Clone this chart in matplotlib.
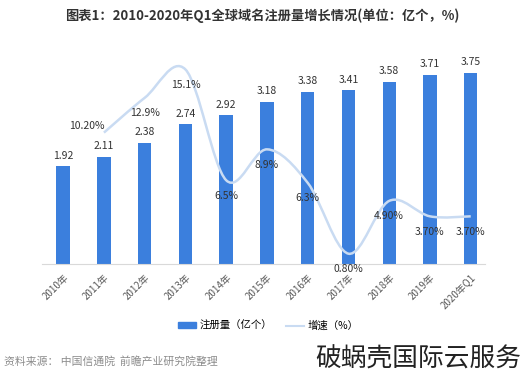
import matplotlib
matplotlib.use("Agg")
import matplotlib.pyplot as plt
from matplotlib.path import Path
from matplotlib.patches import PathPatch, Patch
from matplotlib.lines import Line2D
import numpy as np

plt.rcParams['font.family'] = ['Noto Sans CJK SC', 'DejaVu Sans']

years = ['2010年', '2011年', '2012年', '2013年', '2014年', '2015年',
         '2016年', '2017年', '2018年', '2019年', '2020年Q1']
volume = [1.92, 2.11, 2.38, 2.74, 2.92, 3.18, 3.38, 3.41, 3.58, 3.71, 3.75]
growth = [None, 10.2, 12.9, 15.1, 6.5, 8.9, 6.3, 0.8, 4.9, 3.7, 3.7]
growth_labels = [None, '10.20%', '12.9%', '15.1%', '6.5%', '8.9%', '6.3%',
                 '0.80%', '4.90%', '3.70%', '3.70%']

bar_color = '#3b7fdd'
line_color = '#c9dbf2'

fig = plt.figure(figsize=(5.24, 3.8), dpi=100)
ax = fig.add_axes([42/524, 1-264/380, 443/524, 219/380])
ax2 = ax.twinx()

x = np.arange(len(years))
ax.bar(x, volume, width=0.33, color=bar_color, zorder=2)
for xi, v in zip(x, volume):
    ax.annotate(f'{v:.2f}', (xi, v), xytext=(0, 4), textcoords='offset points',
                ha='center', va='bottom', fontsize=7.5, color='#333333')

ax.set_xlim(-0.52, 10.35)
ax.set_ylim(0, 4.30)
ax2.set_ylim(0, 17.0)

# smooth line (bezier through the points)
gx = [xi for xi, g in zip(x, growth) if g is not None]
gy = [g for g in growth if g is not None]
pts = np.column_stack([gx, gy]).astype(float)
n = len(pts)
verts = [pts[0]]
codes = [Path.MOVETO]
for i in range(n - 1):
    p0 = pts[i - 1] if i > 0 else pts[i]
    p1, p2 = pts[i], pts[i + 1]
    p3 = pts[i + 2] if i + 2 < n else pts[i + 1]
    verts += [p1 + (p2 - p0) / 6, p2 - (p3 - p1) / 6, p2]
    codes += [Path.CURVE4] * 3
ax2.add_patch(PathPatch(Path(verts, codes), fill=False, edgecolor=line_color,
                        lw=1.8, zorder=3))

for xi, g, lab in zip(x, growth, growth_labels):
    if g is None:
        continue
    if lab == '10.20%':
        ax2.annotate(lab, (xi, g), xytext=(-12, 5), textcoords='offset points',
                     ha='center', va='center', fontsize=7.5, color='#333333')
    else:
        ax2.annotate(lab, (xi, g), xytext=(0, -11), textcoords='offset points',
                     ha='center', va='center', fontsize=7.5, color='#333333')

for a in (ax, ax2):
    for s in a.spines.values():
        s.set_visible(False)
    a.set_yticks([])
ax.spines['bottom'].set_visible(True)
ax.spines['bottom'].set_color('#d9d9d9')
ax.set_xticks(x)
ax.set_xticklabels(years, rotation=45, ha='right', rotation_mode='anchor',
                   fontsize=7, color='#595959')
ax.tick_params(axis='x', length=0, pad=6)

handles = [Patch(color=bar_color), Line2D([], [], color=line_color, lw=1.5)]
fig.legend(handles, ['注册量（亿个）', '增速（%）'], loc='center',
           bbox_to_anchor=(268/524, 1-326/380), ncol=2, frameon=False, fontsize=7.5,
           handlelength=1.8, handleheight=0.5, columnspacing=1.3, handletextpad=0.3)

fig.text(0.5, 1-16/380, '图表1：2010-2020年Q1全球域名注册量增长情况(单位：亿个，%)',
         ha='center', va='center', fontsize=9.5, fontweight='bold', color='#333333')
fig.text(4/524, 1-361/380, '资料来源： 中国信通院  前瞻产业研究院整理',
         ha='left', va='center', fontsize=7.8, color='#8c8c8c')
fig.text(521/524, 1-360/380, '破蜗壳国际云服务', ha='right', va='center',
         fontsize=18.5, fontweight='light', color='#222222')

fig.savefig('out.png', dpi=100)
